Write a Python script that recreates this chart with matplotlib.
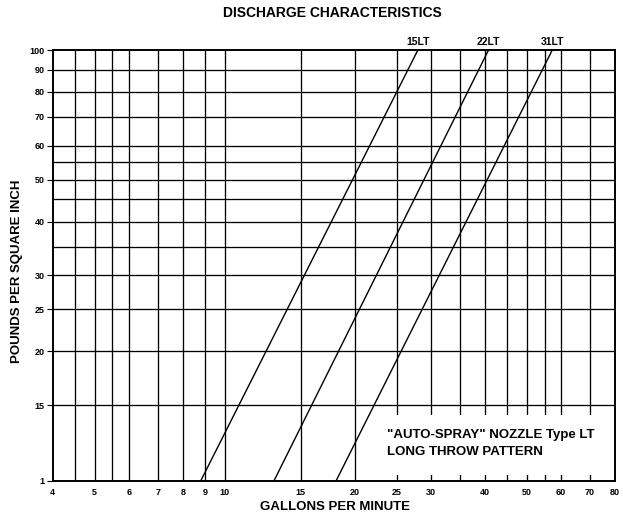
import numpy as np
import matplotlib.pyplot as plt
from matplotlib.patches import Rectangle

plt.rcParams['font.family'] = ['Liberation Sans', 'DejaVu Sans']
plt.rcParams['font.weight'] = 'bold'

# nozzle flow (gpm) at 10 psi and 100 psi
nozzles = ["15LT", "22LT", "31LT"]
gpm_at_10 = [8.8, 13.0, 18.1]
gpm_at_100 = [28.0, 40.8, 57.3]
psi_ends = [10, 100]

# grid and tick positions
x_grid = [4.5, 5, 5.5, 6, 7, 8, 9, 10, 15, 20, 25, 30, 35, 40, 45, 50, 55, 60, 70]
x_ticks = [4, 5, 6, 7, 8, 9, 10, 15, 20, 25, 30, 40, 50, 60, 70, 80]
y_grid = [15, 20, 25, 30, 35, 40, 45, 50, 55, 60, 70, 80, 90]
y_ticks = [10, 15, 20, 25, 30, 40, 50, 60, 70, 80, 90, 100]
y_tick_labels = ["1", "15", "20", "25", "30", "40", "50", "60", "70", "80", "90", "100"]

fig = plt.figure(figsize=(6.23, 5.21), dpi=100)
ax = fig.add_axes([0.0846, 0.0768, 0.9024, 0.8272])
ax.set_xscale("log")
ax.set_yscale("log")
ax.set_xlim(4, 80)
ax.set_ylim(10, 100)

for xv in x_grid:
    ax.axvline(xv, color="black", lw=0.95, zorder=1)
for yv in y_grid:
    ax.axhline(yv, color="black", lw=0.95, zorder=1)

# white patch behind the legend text
ax.add_patch(Rectangle((0.575, 0.014), 0.415, 0.139, transform=ax.transAxes,
                       facecolor="white", edgecolor="none", zorder=2))
ax.text(0.594, 0.107, '"AUTO-SPRAY" NOZZLE Type LT', transform=ax.transAxes,
        fontsize=9.5, fontweight="bold", va="center", ha="left", zorder=3)
ax.text(0.594, 0.068, 'LONG THROW PATTERN', transform=ax.transAxes,
        fontsize=9.5, fontweight="bold", va="center", ha="left", zorder=3)

for name, q10, q100 in zip(nozzles, gpm_at_10, gpm_at_100):
    ax.plot([q10, q100], psi_ends, color="black", lw=1.0, zorder=4, clip_on=False)
    ax.text(q100, 102.5, name, fontsize=7.5, fontweight="bold", ha="center", va="baseline")

ax.minorticks_off()
ax.set_xticks(x_ticks)
ax.set_xticklabels([str(v) for v in x_ticks], fontsize=6.5, fontweight="bold")
ax.set_yticks(y_ticks)
ax.set_yticklabels(y_tick_labels, fontsize=6.5, fontweight="bold")
ax.tick_params(axis="x", length=0, pad=5)
ax.tick_params(axis="y", length=4, width=0.8, pad=2)

for s in ax.spines.values():
    s.set_linewidth(1.4)

fig.text(0.538, 0.027, "GALLONS PER MINUTE", fontsize=9.5, fontweight="bold",
         ha="center", va="center")
fig.text(0.028, 0.48, "POUNDS PER SQUARE INCH", fontsize=9.5, fontweight="bold",
         ha="center", va="center", rotation=90)
fig.text(0.533, 0.975, "DISCHARGE CHARACTERISTICS", fontsize=10, fontweight="bold",
         ha="center", va="center")

plt.savefig("out.png", dpi=100)
